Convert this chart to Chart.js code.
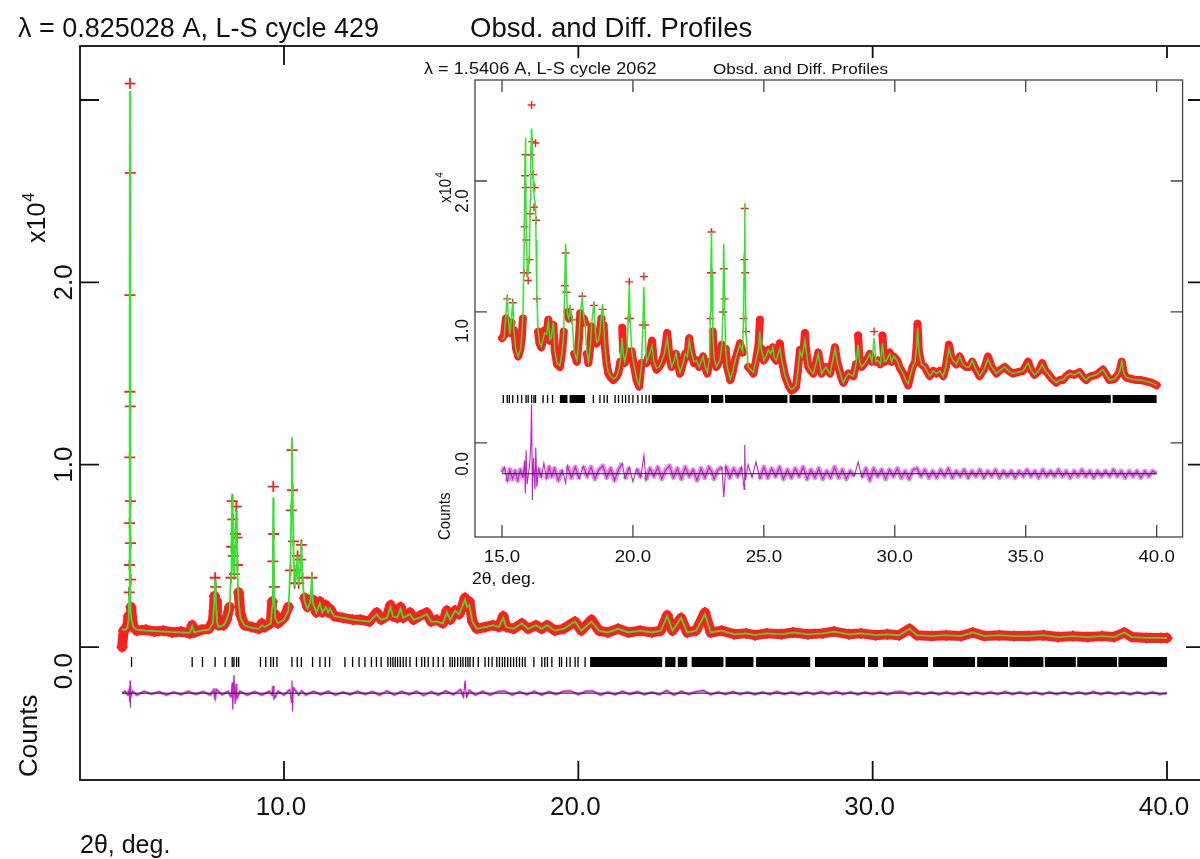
<!DOCTYPE html>
<html>
<head>
<meta charset="utf-8">
<script src="https://cdn.jsdelivr.net/npm/chart.js@4.4.1/dist/chart.umd.min.js"></script>
<style>
  html, body { margin: 0; padding: 0; background: #fff; overflow: hidden; width: 1200px; height: 859px; }
  #mainWrap { position: absolute; left: 0; top: 0; width: 1220px; height: 859px; }
  #insetWrap { position: absolute; left: 420px; top: 58px; width: 768px; height: 534px; background: #fff; }
</style>
</head>
<body>
<div id="mainWrap"><canvas id="mainChart" width="1220" height="859"></canvas></div>
<div id="insetWrap"><canvas id="insetChart" width="768" height="534"></canvas></div>
<script>
// ---- main pattern (lambda 0.825028 A), intensities in units of 10^4 counts ----
const mainTT = [
  4.50, 4.55, 4.62, 4.68, 4.72, 4.74, 4.75, 4.755, 4.76, 4.763,
  4.766, 4.77, 4.774, 4.777, 4.78, 4.785, 4.79, 4.80, 4.83, 4.88,
  5.00, 5.30, 5.60, 5.90, 6.20, 6.50, 6.80, 6.88, 6.95, 7.20,
  7.45, 7.58, 7.62, 7.64, 7.66, 7.68, 7.70, 7.72, 7.78, 7.95,
  8.05, 8.15, 8.20, 8.22, 8.24, 8.26, 8.28, 8.31, 8.35, 8.38,
  8.40, 8.42, 8.46, 8.52, 8.65, 8.90, 9.15, 9.25, 9.35, 9.55,
  9.60, 9.62, 9.635, 9.65, 9.67, 9.70, 9.80, 10.00, 10.15, 10.22,
  10.25, 10.27, 10.29, 10.32, 10.36, 10.42, 10.46, 10.50, 10.56, 10.59,
  10.63, 10.70, 10.80, 10.90, 10.95, 10.98, 11.10, 11.22, 11.30, 11.42,
  11.50, 11.56, 11.70, 12.00, 12.33, 12.60, 12.90, 13.15, 13.30, 13.50,
  13.62, 13.70, 13.85, 13.96, 14.05, 14.28, 14.40, 14.60, 14.85, 15.00,
  15.19, 15.40, 15.53, 15.65, 15.81, 15.95, 16.05, 16.15, 16.22, 16.30,
  16.40, 16.55, 16.85, 17.10, 17.30, 17.45, 17.55, 17.80, 18.08, 18.30,
  18.56, 18.75, 18.94, 19.20, 19.50, 19.89, 20.10, 20.45, 20.70, 21.00,
  21.35, 21.70, 22.10, 22.50, 22.80, 23.02, 23.20, 23.49, 23.70, 24.00,
  24.30, 24.50, 24.87, 25.30, 25.70, 26.00, 26.40, 26.90, 27.30, 27.80,
  28.30, 28.70, 29.20, 29.60, 30.10, 30.50, 30.90, 31.25, 31.50, 32.00,
  32.50, 33.00, 33.40, 33.80, 34.30, 34.80, 35.30, 35.80, 36.30, 36.80,
  37.30, 37.80, 38.20, 38.55, 38.80, 39.30, 39.80, 40.00
];
const mainObs = [
  0.00, 0.09, 0.10, 0.12, 0.17, 0.30, 0.45, 0.68, 1.04, 1.40,
  1.93, 3.09, 2.60, 1.32, 0.80, 0.57, 0.37, 0.22, 0.17, 0.11,
  0.09, 0.095, 0.085, 0.09, 0.08, 0.085, 0.075, 0.12, 0.08, 0.095,
  0.10, 0.14, 0.20, 0.28, 0.38, 0.33, 0.25, 0.17, 0.12, 0.12,
  0.15, 0.22, 0.38, 0.55, 0.80, 0.70, 0.50, 0.40, 0.62, 0.77,
  0.60, 0.45, 0.30, 0.18, 0.12, 0.11, 0.10, 0.13, 0.11, 0.13,
  0.25, 0.47, 0.88, 0.62, 0.33, 0.18, 0.13, 0.16, 0.22, 0.42,
  0.75, 1.08, 0.86, 0.58, 0.35, 0.42, 0.50, 0.35, 0.48, 0.56,
  0.38, 0.27, 0.22, 0.26, 0.38, 0.26, 0.19, 0.25, 0.19, 0.23,
  0.19, 0.21, 0.17, 0.16, 0.15, 0.15, 0.14, 0.19, 0.15, 0.17,
  0.23, 0.17, 0.16, 0.22, 0.16, 0.19, 0.15, 0.17, 0.19, 0.14,
  0.15, 0.13, 0.20, 0.15, 0.20, 0.18, 0.22, 0.27, 0.22, 0.25,
  0.14, 0.10, 0.11, 0.12, 0.11, 0.17, 0.11, 0.10, 0.13, 0.10,
  0.12, 0.10, 0.12, 0.09, 0.10, 0.14, 0.09, 0.15, 0.09, 0.08,
  0.10, 0.08, 0.09, 0.08, 0.09, 0.175, 0.09, 0.16, 0.08, 0.09,
  0.19, 0.08, 0.09, 0.07, 0.075, 0.065, 0.075, 0.07, 0.08, 0.07,
  0.075, 0.085, 0.07, 0.075, 0.065, 0.07, 0.065, 0.10, 0.065, 0.06,
  0.065, 0.06, 0.08, 0.06, 0.065, 0.06, 0.06, 0.065, 0.055, 0.06,
  0.055, 0.06, 0.055, 0.08, 0.055, 0.05, 0.05, 0.05
];
const mainCalc = [
  0.10, 0.095, 0.095, 0.105, 0.15, 0.28, 0.50, 0.75, 1.10, 1.50,
  2.00, 3.05, 2.55, 1.40, 0.85, 0.55, 0.35, 0.20, 0.14, 0.11,
  0.095, 0.09, 0.088, 0.085, 0.082, 0.08, 0.078, 0.115, 0.08, 0.09,
  0.095, 0.13, 0.22, 0.30, 0.37, 0.30, 0.20, 0.14, 0.11, 0.12,
  0.15, 0.20, 0.40, 0.60, 0.84, 0.75, 0.45, 0.38, 0.60, 0.75,
  0.58, 0.40, 0.25, 0.16, 0.12, 0.105, 0.10, 0.12, 0.11, 0.13,
  0.22, 0.50, 0.82, 0.60, 0.30, 0.16, 0.13, 0.15, 0.20, 0.45,
  0.80, 1.15, 0.90, 0.55, 0.33, 0.40, 0.50, 0.34, 0.45, 0.58,
  0.36, 0.25, 0.21, 0.25, 0.40, 0.24, 0.19, 0.24, 0.19, 0.22,
  0.19, 0.21, 0.17, 0.16, 0.15, 0.145, 0.14, 0.18, 0.15, 0.16,
  0.22, 0.17, 0.16, 0.21, 0.16, 0.18, 0.15, 0.16, 0.18, 0.14,
  0.14, 0.13, 0.19, 0.15, 0.20, 0.18, 0.22, 0.26, 0.22, 0.23,
  0.14, 0.10, 0.11, 0.12, 0.11, 0.16, 0.11, 0.10, 0.13, 0.10,
  0.12, 0.10, 0.12, 0.09, 0.10, 0.14, 0.09, 0.14, 0.09, 0.08,
  0.10, 0.08, 0.09, 0.08, 0.09, 0.17, 0.09, 0.16, 0.08, 0.09,
  0.18, 0.08, 0.09, 0.07, 0.075, 0.065, 0.075, 0.07, 0.08, 0.07,
  0.075, 0.085, 0.07, 0.075, 0.065, 0.07, 0.065, 0.10, 0.065, 0.06,
  0.065, 0.06, 0.08, 0.06, 0.065, 0.06, 0.06, 0.065, 0.055, 0.06,
  0.055, 0.06, 0.055, 0.08, 0.055, 0.05, 0.05, 0.05
];
// difference curve (obs - calc), drawn shifted below the reflection ticks
const mainDiffTT = [
  4.50, 4.60, 4.70, 4.74, 4.76, 4.77, 4.775, 4.78, 4.80, 4.85,
  5.00, 5.25, 5.50, 5.75, 6.00, 6.25, 6.50, 6.75, 7.00, 7.25,
  7.50, 7.62, 7.66, 7.70, 7.90, 8.10, 8.20, 8.24, 8.26, 8.30,
  8.34, 8.37, 8.40, 8.50, 8.75, 9.00, 9.25, 9.50, 9.60, 9.63,
  9.66, 9.80, 10.00, 10.20, 10.25, 10.27, 10.29, 10.32, 10.50, 10.60,
  10.75, 11.00, 11.25, 11.50, 11.75, 12.00, 12.25, 12.50, 12.75, 13.00,
  13.25, 13.50, 13.75, 14.00, 14.25, 14.50, 14.75, 15.00, 15.25, 15.50,
  15.75, 16.00, 16.10, 16.15, 16.20, 16.30, 16.50, 16.75, 17.00, 17.25,
  17.50, 17.75, 18.00, 18.25, 18.50, 18.75, 19.00, 19.25, 19.50, 19.75,
  20.00, 20.25, 20.50, 20.75, 21.00, 21.25, 21.50, 21.75, 22.00, 22.25,
  22.50, 22.75, 23.00, 23.25, 23.50, 23.75, 24.00, 24.25, 24.50, 24.75,
  25.00, 25.25, 25.50, 25.75, 26.00, 26.25, 26.50, 26.75, 27.00, 27.25,
  27.50, 27.75, 28.00, 28.25, 28.50, 28.75, 29.00, 29.25, 29.50, 29.75,
  30.00, 30.25, 30.50, 30.75, 31.00, 31.25, 31.50, 31.75, 32.00, 32.25,
  32.50, 32.75, 33.00, 33.25, 33.50, 33.75, 34.00, 34.25, 34.50, 34.75,
  35.00, 35.25, 35.50, 35.75, 36.00, 36.25, 36.50, 36.75, 37.00, 37.25,
  37.50, 37.75, 38.00, 38.25, 38.50, 38.75, 39.00, 39.25, 39.50, 39.75,
  40.00
];
const mainDiff = [
  0.00, 0.01, -0.01, 0.02, -0.05, 0.07, -0.08, 0.03, -0.02, 0.01,
  -0.01, 0.01, -0.005, 0.008, -0.01, 0.006, -0.008, 0.01, -0.006, 0.008,
  -0.01, 0.02, -0.03, 0.02, -0.008, 0.01, -0.02, 0.06, -0.09, 0.10,
  -0.06, 0.05, -0.03, 0.01, -0.01, 0.008, -0.01, 0.01, -0.01, 0.04,
  -0.03, 0.01, -0.01, 0.02, -0.05, 0.07, -0.10, 0.03, -0.01, 0.012,
  -0.01, 0.01, -0.008, 0.01, -0.01, 0.006, -0.008, 0.01, -0.006, 0.008,
  -0.01, 0.012, -0.01, 0.01, -0.008, 0.01, -0.012, 0.008, -0.01, 0.012,
  -0.008, 0.02, -0.02, 0.07, -0.02, 0.015, -0.01, 0.01, -0.01, 0.008,
  0.012, -0.01, 0.008, -0.008, 0.01, -0.01, 0.008, -0.006, 0.01, 0.012,
  -0.008, 0.01, 0.012, -0.01, 0.006, -0.008, 0.01, -0.006, 0.008, -0.008,
  0.006, -0.008, 0.014, -0.01, 0.01, -0.006, 0.008, 0.014, -0.008, 0.006,
  -0.006, 0.008, -0.006, 0.006, -0.008, 0.006, -0.006, 0.008, -0.006, 0.006,
  -0.008, 0.006, -0.006, 0.008, -0.006, 0.008, -0.006, 0.006, -0.008, 0.006,
  -0.006, 0.006, -0.008, 0.006, 0.008, -0.006, 0.006, -0.006, 0.006, -0.008,
  0.006, -0.006, 0.006, -0.008, 0.006, -0.006, 0.006, -0.006, 0.008, -0.006,
  0.006, -0.006, 0.006, -0.008, 0.006, -0.006, 0.006, -0.006, 0.006, -0.006,
  0.008, -0.006, 0.006, -0.006, 0.006, -0.008, 0.006, -0.006, 0.006, -0.006,
  0.00
];
// reflection positions: single ticks, then runs where ticks merge into a solid bar
const mainHklTT = [
  4.82, 6.88, 7.23, 7.66, 8.00, 8.24, 8.30, 8.39, 8.46, 9.20,
  9.38, 9.55, 9.64, 9.76, 10.27, 10.45, 10.59, 10.97, 11.22, 11.40,
  11.55, 12.07, 12.33, 12.55, 12.75, 12.97, 13.14, 13.30, 13.53, 13.62,
  13.70, 13.78, 13.86, 13.95, 14.05, 14.15, 14.28, 14.50, 14.68, 14.78,
  14.90, 15.07, 15.24, 15.41, 15.64, 15.72, 15.80, 15.90, 16.00, 16.08,
  16.17, 16.25, 16.32, 16.43, 16.60, 16.83, 16.95, 17.07, 17.23, 17.32,
  17.42, 17.50, 17.60, 17.70, 17.80, 17.90, 18.00, 18.10, 18.19, 18.49,
  18.76, 18.86, 18.95, 19.10, 19.36, 19.43, 19.60, 19.72, 19.89, 19.99,
  20.23
];
const mainBandFrom = [20.40, 22.95, 23.38, 23.85, 25.00, 26.04, 28.04, 29.84, 30.35, 32.05, 33.55, 34.65, 35.85, 36.95, 38.35];
const mainBandTo   = [22.85, 23.30, 23.70, 24.93, 25.95, 27.88, 29.74, 30.18, 31.88, 33.48, 34.60, 35.80, 36.90, 38.30, 40.00];

// ---- inset pattern (lambda 1.5406 A) ----
const insetTT = [
  15.00, 15.08, 15.15, 15.20, 15.25, 15.30, 15.36, 15.41, 15.46, 15.54,
  15.62, 15.70, 15.75, 15.80, 15.84, 15.86, 15.88, 15.895, 15.91, 15.93,
  15.96, 16.00, 16.05, 16.08, 16.10, 16.13, 16.16, 16.19, 16.22, 16.25,
  16.28, 16.30, 16.33, 16.38, 16.43, 16.50, 16.58, 16.63, 16.70, 16.77,
  16.83, 16.88, 16.96, 17.02, 17.10, 17.21, 17.30, 17.36, 17.40, 17.43,
  17.46, 17.50, 17.56, 17.60, 17.68, 17.76, 17.86, 17.94, 17.99, 18.07,
  18.12, 18.17, 18.24, 18.30, 18.38, 18.42, 18.51, 18.56, 18.61, 18.68,
  18.74, 18.80, 18.84, 18.88, 18.93, 19.00, 19.06, 19.15, 19.25, 19.35,
  19.44, 19.52, 19.59, 19.63, 19.69, 19.78, 19.83, 19.86, 19.89, 19.95,
  20.02, 20.14, 20.24, 20.33, 20.38, 20.42, 20.46, 20.52, 20.60, 20.65,
  20.73, 20.80, 20.90, 21.00, 21.09, 21.20, 21.31, 21.40, 21.48, 21.56,
  21.65, 21.72, 21.80, 21.90, 22.00, 22.08, 22.15, 22.22, 22.33, 22.43,
  22.53, 22.60, 22.68, 22.76, 22.84, 22.92, 22.96, 22.98, 23.00, 23.02,
  23.05, 23.10, 23.19, 23.32, 23.40, 23.44, 23.47, 23.50, 23.54, 23.60,
  23.72, 23.82, 23.90, 24.00, 24.09, 24.15, 24.19, 24.23, 24.25, 24.27,
  24.29, 24.32, 24.40, 24.50, 24.60, 24.70, 24.80, 24.85, 24.90, 25.00,
  25.08, 25.17, 25.26, 25.34, 25.40, 25.47, 25.55, 25.61, 25.67, 25.74,
  25.80, 25.87, 25.96, 26.06, 26.15, 26.23, 26.30, 26.38, 26.45, 26.52,
  26.57, 26.62, 26.70, 26.80, 26.89, 26.98, 27.08, 27.15, 27.21, 27.30,
  27.37, 27.45, 27.53, 27.62, 27.72, 27.80, 27.88, 27.96, 28.04, 28.13,
  28.23, 28.32, 28.42, 28.52, 28.60, 28.66, 28.73, 28.82, 28.92, 29.00,
  29.05, 29.13, 29.21, 29.28, 29.36, 29.45, 29.53, 29.60, 29.68, 29.75,
  29.81, 29.88, 29.96, 30.09, 30.20, 30.32, 30.42, 30.51, 30.60, 30.68,
  30.78, 30.84, 30.87, 30.92, 31.02, 31.15, 31.25, 31.34, 31.47, 31.60,
  31.72, 31.85, 31.95, 32.07, 32.15, 32.22, 32.35, 32.48, 32.60, 32.73,
  32.85, 32.96, 33.10, 33.24, 33.40, 33.56, 33.70, 33.88, 34.05, 34.20,
  34.35, 34.51, 34.70, 34.90, 35.09, 35.20, 35.34, 35.50, 35.63, 35.75,
  35.85, 36.00, 36.17, 36.30, 36.42, 36.55, 36.68, 36.85, 37.06, 37.20,
  37.31, 37.40, 37.50, 37.70, 37.95, 38.08, 38.20, 38.40, 38.58, 38.67,
  38.75, 38.84, 39.00, 39.22, 39.40, 39.60, 39.80, 40.00
];
const insetObs = [
  0.80, 0.82, 0.95, 1.10, 0.92, 0.84, 0.92, 1.07, 0.86, 0.72,
  0.66, 0.72, 0.79, 0.95, 1.30, 1.65, 2.04, 2.20, 1.95, 1.55,
  1.30, 1.24, 1.40, 1.75, 2.20, 2.58, 2.30, 2.05, 1.80, 1.95,
  2.29, 1.70, 1.10, 0.85, 0.76, 0.73, 0.80, 0.86, 0.82, 0.94,
  0.78, 0.80, 0.90, 0.70, 0.60, 0.58, 0.70, 0.85, 1.20, 1.45,
  1.15, 1.00, 0.95, 1.02, 0.94, 0.68, 0.62, 0.80, 0.99, 1.12,
  0.95, 0.92, 0.68, 0.61, 0.75, 0.89, 1.05, 0.85, 0.76, 0.78,
  0.84, 0.95, 1.02, 0.90, 0.73, 0.60, 0.53, 0.50, 0.48, 0.50,
  0.53, 0.62, 0.88, 0.70, 0.61, 0.70, 0.95, 1.23, 0.95, 0.70,
  0.61, 0.48, 0.43, 0.61, 0.90, 1.27, 0.90, 0.61, 0.66, 0.68,
  0.78, 0.62, 0.56, 0.58, 0.61, 0.68, 0.84, 0.65, 0.58, 0.62,
  0.68, 0.60, 0.53, 0.60, 0.68, 0.66, 0.80, 0.70, 0.61, 0.63,
  0.58, 0.62, 0.66, 0.58, 0.53, 0.62, 0.95, 1.30, 1.61, 1.30,
  0.85, 0.65, 0.58, 0.63, 0.75, 1.00, 1.33, 1.10, 0.72, 0.58,
  0.48, 0.55, 0.63, 0.70, 0.76, 0.72, 0.69, 0.95, 1.40, 1.79,
  1.30, 0.85, 0.58, 0.56, 0.53, 0.63, 0.75, 0.94, 0.72, 0.63,
  0.66, 0.71, 0.68, 0.73, 0.65, 0.63, 0.68, 0.76, 0.65, 0.58,
  0.52, 0.48, 0.43, 0.40, 0.41, 0.43, 0.55, 0.71, 0.66, 0.72,
  0.84, 0.70, 0.58, 0.55, 0.53, 0.60, 0.69, 0.60, 0.53, 0.56,
  0.58, 0.55, 0.53, 0.62, 0.73, 0.62, 0.56, 0.50, 0.46, 0.50,
  0.53, 0.52, 0.51, 0.60, 0.82, 0.62, 0.58, 0.60, 0.63, 0.66,
  0.68, 0.62, 0.85, 0.62, 0.63, 0.60, 0.82, 0.62, 0.63, 0.66,
  0.69, 0.62, 0.66, 0.63, 0.57, 0.53, 0.48, 0.44, 0.52, 0.58,
  0.62, 0.75, 0.91, 0.70, 0.60, 0.58, 0.54, 0.51, 0.55, 0.53,
  0.55, 0.51, 0.58, 0.75, 0.66, 0.63, 0.60, 0.66, 0.60, 0.58,
  0.58, 0.62, 0.56, 0.51, 0.56, 0.66, 0.58, 0.53, 0.56, 0.58,
  0.55, 0.53, 0.54, 0.55, 0.62, 0.56, 0.52, 0.55, 0.61, 0.55,
  0.53, 0.49, 0.46, 0.48, 0.48, 0.51, 0.53, 0.52, 0.54, 0.50,
  0.48, 0.50, 0.51, 0.52, 0.56, 0.52, 0.48, 0.49, 0.54, 0.62,
  0.53, 0.50, 0.49, 0.48, 0.48, 0.47, 0.46, 0.44
];
const insetCalc = [
  0.79, 0.80, 0.98, 1.12, 0.94, 0.83, 0.95, 1.08, 0.85, 0.70,
  0.66, 0.71, 0.80, 0.98, 1.40, 1.80, 2.20, 2.33, 2.05, 1.60,
  1.35, 1.28, 1.45, 1.85, 2.20, 2.40, 2.25, 2.00, 1.90, 1.85,
  1.83, 1.55, 1.12, 0.86, 0.77, 0.74, 0.80, 0.84, 0.83, 0.93,
  0.79, 0.80, 0.92, 0.70, 0.61, 0.59, 0.70, 0.85, 1.25, 1.52,
  1.20, 0.98, 0.95, 1.03, 0.93, 0.69, 0.63, 0.80, 1.00, 1.10,
  0.96, 0.91, 0.69, 0.62, 0.75, 0.90, 1.07, 0.86, 0.77, 0.78,
  0.85, 0.98, 1.06, 0.92, 0.74, 0.60, 0.54, 0.51, 0.49, 0.50,
  0.54, 0.62, 0.80, 0.68, 0.62, 0.72, 1.00, 1.20, 0.97, 0.71,
  0.62, 0.49, 0.44, 0.60, 0.90, 1.19, 0.88, 0.62, 0.66, 0.69,
  0.74, 0.62, 0.57, 0.58, 0.62, 0.68, 0.80, 0.66, 0.58, 0.62,
  0.69, 0.60, 0.54, 0.60, 0.68, 0.66, 0.78, 0.70, 0.62, 0.63,
  0.58, 0.62, 0.66, 0.58, 0.54, 0.63, 1.00, 1.35, 1.61, 1.28,
  0.85, 0.65, 0.58, 0.63, 0.75, 1.05, 1.52, 1.10, 0.72, 0.58,
  0.49, 0.55, 0.63, 0.70, 0.75, 0.72, 0.70, 1.00, 1.45, 1.83,
  1.30, 0.85, 0.58, 0.56, 0.54, 0.63, 0.72, 0.85, 0.72, 0.63,
  0.66, 0.71, 0.68, 0.73, 0.65, 0.63, 0.68, 0.72, 0.65, 0.58,
  0.52, 0.48, 0.43, 0.41, 0.42, 0.44, 0.55, 0.70, 0.66, 0.72,
  0.78, 0.70, 0.58, 0.55, 0.53, 0.60, 0.68, 0.60, 0.53, 0.56,
  0.58, 0.55, 0.53, 0.62, 0.72, 0.62, 0.56, 0.50, 0.46, 0.50,
  0.53, 0.52, 0.51, 0.60, 0.75, 0.62, 0.58, 0.60, 0.63, 0.66,
  0.68, 0.62, 0.80, 0.62, 0.63, 0.60, 0.76, 0.62, 0.63, 0.66,
  0.68, 0.62, 0.66, 0.63, 0.57, 0.53, 0.48, 0.45, 0.52, 0.58,
  0.62, 0.75, 0.88, 0.70, 0.60, 0.58, 0.54, 0.51, 0.55, 0.53,
  0.55, 0.51, 0.58, 0.72, 0.66, 0.63, 0.60, 0.66, 0.60, 0.58,
  0.58, 0.63, 0.56, 0.51, 0.56, 0.64, 0.58, 0.53, 0.56, 0.58,
  0.55, 0.53, 0.54, 0.55, 0.61, 0.56, 0.52, 0.55, 0.60, 0.55,
  0.53, 0.49, 0.46, 0.48, 0.48, 0.51, 0.53, 0.52, 0.54, 0.50,
  0.48, 0.50, 0.51, 0.52, 0.56, 0.52, 0.48, 0.49, 0.54, 0.62,
  0.53, 0.50, 0.49, 0.48, 0.48, 0.47, 0.46, 0.44
];
const insetDiffTT = [
  15.00, 15.10, 15.20, 15.30, 15.40, 15.50, 15.60, 15.70, 15.80, 15.86,
  15.89, 15.92, 15.96, 16.05, 16.10, 16.13, 16.16, 16.20, 16.26, 16.29,
  16.33, 16.40, 16.50, 16.60, 16.70, 16.80, 16.90, 17.00, 17.15, 17.30,
  17.43, 17.50, 17.65, 17.80, 17.95, 18.10, 18.25, 18.40, 18.55, 18.70,
  18.85, 19.00, 19.15, 19.30, 19.45, 19.59, 19.70, 19.86, 20.00, 20.15,
  20.30, 20.42, 20.50, 20.65, 20.80, 20.95, 21.10, 21.25, 21.40, 21.55,
  21.70, 21.85, 22.00, 22.15, 22.30, 22.45, 22.60, 22.75, 22.90, 23.00,
  23.10, 23.25, 23.40, 23.47, 23.55, 23.70, 23.85, 24.00, 24.15, 24.25,
  24.27, 24.30, 24.40, 24.55, 24.70, 24.85, 25.00, 25.15, 25.30, 25.45,
  25.60, 25.75, 25.90, 26.05, 26.20, 26.35, 26.50, 26.65, 26.80, 26.95,
  27.10, 27.25, 27.40, 27.55, 27.70, 27.85, 28.00, 28.15, 28.30, 28.45,
  28.60, 28.75, 28.90, 29.05, 29.20, 29.35, 29.50, 29.65, 29.80, 29.95,
  30.10, 30.25, 30.40, 30.55, 30.70, 30.85, 31.00, 31.15, 31.30, 31.45,
  31.60, 31.75, 31.90, 32.05, 32.20, 32.35, 32.50, 32.65, 32.80, 32.95,
  33.10, 33.25, 33.40, 33.55, 33.70, 33.85, 34.00, 34.15, 34.30, 34.45,
  34.60, 34.75, 34.90, 35.05, 35.20, 35.35, 35.50, 35.65, 35.80, 35.95,
  36.10, 36.25, 36.40, 36.55, 36.70, 36.85, 37.00, 37.15, 37.30, 37.45,
  37.60, 37.75, 37.90, 38.05, 38.20, 38.35, 38.50, 38.65, 38.80, 38.95,
  39.10, 39.25, 39.40, 39.55, 39.70, 39.85, 40.00
];
const insetDiff = [
  0.01, 0.05, -0.06, 0.03, -0.04, 0.02, -0.05, 0.03, -0.03, 0.10,
  -0.15, 0.18, -0.08, 0.06, 0.22, 0.53, -0.20, 0.12, -0.12, 0.20,
  -0.10, 0.04, -0.03, 0.08, -0.04, 0.05, -0.02, 0.04, -0.05, 0.03,
  -0.07, 0.06, -0.03, 0.05, -0.04, 0.06, -0.02, 0.05, -0.04, 0.03,
  0.06, -0.03, 0.04, -0.05, 0.03, 0.08, -0.04, 0.05, -0.06, 0.04,
  -0.03, 0.14, -0.05, 0.04, -0.02, 0.05, -0.04, 0.03, 0.06, -0.03,
  0.04, -0.04, 0.05, -0.02, 0.03, -0.05, 0.04, -0.03, 0.05, 0.02,
  -0.04, 0.03, 0.05, -0.18, 0.06, -0.03, 0.04, -0.02, 0.05, -0.12,
  0.22, -0.05, 0.07, -0.03, 0.09, -0.04, 0.05, -0.03, 0.04, -0.02,
  0.05, -0.04, 0.03, -0.03, 0.04, -0.02, 0.05, -0.04, 0.03, -0.03,
  0.04, -0.04, 0.02, -0.03, 0.05, -0.03, 0.03, -0.04, 0.02, -0.02,
  0.09, -0.03, 0.04, -0.05, 0.04, -0.02, 0.03, -0.04, 0.03, -0.02,
  0.04, -0.03, 0.02, -0.04, 0.03, 0.04, -0.02, 0.03, -0.03, 0.02,
  -0.03, 0.03, -0.02, 0.04, -0.03, 0.02, -0.02, 0.03, -0.03, 0.02,
  -0.02, 0.03, -0.03, 0.02, -0.02, 0.03, -0.03, 0.02, -0.02, 0.02,
  -0.03, 0.02, -0.02, 0.03, -0.02, 0.02, -0.03, 0.03, -0.02, 0.02,
  -0.02, 0.03, -0.02, 0.02, -0.03, 0.02, -0.02, 0.03, -0.02, 0.02,
  -0.03, 0.02, -0.02, 0.02, -0.02, 0.03, -0.02, 0.02, -0.03, 0.02,
  -0.02, 0.02, -0.03, 0.02, -0.02, 0.02, 0.00
];
const insetHklTT = [
  15.05, 15.20, 15.28, 15.41, 15.60, 15.75, 15.92, 16.00, 16.13, 16.22,
  16.28, 16.57, 16.74, 16.93, 18.49, 18.74, 18.90, 19.02, 19.32, 19.45,
  19.60, 19.72, 19.85, 20.00, 20.19, 20.35, 20.50, 20.62
];
const insetBandFrom = [17.21, 17.58, 20.72, 22.98, 23.52, 25.98, 26.85, 27.98, 29.25, 29.70, 30.32, 31.90, 38.32];
const insetBandTo   = [17.50, 18.17, 22.90, 23.45, 25.90, 26.78, 27.90, 29.15, 29.60, 30.08, 31.72, 38.25, 40.00];

// ---- helpers ----
function pts(xs, ys, shift) {
  const n = Math.min(xs.length, ys.length);
  const out = [];
  for (let i = 0; i < n; i++) out.push({ x: xs[i], y: ys[i] + (shift || 0) });
  return out;
}
function flat(xs, level) {
  return xs.map(x => ({ x: x, y: level }));
}
function runs(from, to, level) {
  const out = [];
  from.forEach((a, i) => {
    out.push({ x: a, y: level }, { x: to[i], y: level }, { x: to[i], y: null });
  });
  return out;
}

function drawText(ctx, t, sx) {
  ctx.save();
  ctx.translate(t.x, t.y);
  ctx.scale(sx, 1);
  if (t.rot) ctx.rotate(-Math.PI / 2);
  ctx.font = t.font;
  ctx.textAlign = t.align || 'left';
  ctx.fillText(t.text, 0, 0);
  if (t.sup) {
    const w = ctx.measureText(t.text).width;
    ctx.font = t.supFont;
    ctx.textAlign = 'left';
    ctx.fillText(t.sup, w + 1, -t.supRaise);
  }
  ctx.restore();
}

// frame, inward ticks and all labels drawn GSAS style
const gsasFrame = {
  id: 'gsasFrame',
  afterDraw(chart, args, o) {
    const ctx = chart.ctx, a = chart.chartArea;
    const xs = chart.scales.x, ys = chart.scales.y;
    ctx.save();
    ctx.strokeStyle = o.frameColor;
    ctx.lineWidth = o.lineWidth;
    ctx.strokeRect(a.left, a.top, a.right - a.left, a.bottom - a.top);
    ctx.beginPath();
    o.xTicks.forEach(v => {
      const p = xs.getPixelForValue(v);
      ctx.moveTo(p, a.bottom); ctx.lineTo(p, a.bottom - o.tickLen);
      ctx.moveTo(p, a.top); ctx.lineTo(p, a.top + o.tickLen);
    });
    o.yTicks.forEach(v => {
      const p = ys.getPixelForValue(v);
      ctx.moveTo(a.left, p); ctx.lineTo(a.left + o.tickLen, p);
      ctx.moveTo(a.right, p); ctx.lineTo(a.right - o.tickLen, p);
    });
    ctx.stroke();
    ctx.fillStyle = '#111';
    ctx.textBaseline = 'alphabetic';
    o.xTicks.forEach(v => drawText(ctx, {
      text: v.toFixed(1), x: xs.getPixelForValue(v) + o.xLabelDx, y: o.xLabelY,
      font: o.tickFont, align: 'center'
    }, o.sx));
    o.yLabels.forEach((v, i) => drawText(ctx, {
      text: v.toFixed(1), x: o.yLabelX, y: ys.getPixelForValue(v) + o.yLabelDy[i],
      font: o.tickFont, align: 'center', rot: true
    }, o.sx));
    o.texts.forEach(t => drawText(ctx, t, o.sx));
    ctx.restore();
  }
};

const RED = '#ff1f1f', GREEN = '#2ee62e', MAGENTA = '#c41fcc';
const CLEAR = 'rgba(0,0,0,0)';

function buildDatasets(d) {
  // the band of merged crosses follows the low, slowly varying part of the pattern;
  // tall narrow peaks keep only their individual crosses
  const hideBand = s => Math.abs(s.p1.y - s.p0.y) > d.steep ||
    Math.max(d.obs[s.p0DataIndex], d.obs[s.p1DataIndex]) > d.bandTop;
  return [
    { data: pts(d.tt, d.calc), borderColor: GREEN, borderWidth: d.calcWidth, pointRadius: 0, order: 0 },
    { data: pts(d.tt, d.obs), showLine: false, pointStyle: 'cross', pointRadius: d.crossSize,
      pointBorderColor: RED, pointBorderWidth: d.crossWidth, order: 1 },
    { data: pts(d.tt, d.obs), borderColor: RED, borderWidth: d.bandWidth, borderJoinStyle: 'round',
      borderCapStyle: 'round', pointRadius: 0, order: 2,
      segment: { borderColor: s => hideBand(s) ? CLEAR : undefined } },
    { data: flat(d.hkl, d.hklLevel), showLine: false, pointStyle: 'line', pointRotation: 90,
      pointRadius: d.hklHalf, pointBorderColor: '#000', pointBorderWidth: 1.3, order: 3 },
    { data: runs(d.bandFrom, d.bandTo, d.hklLevel), borderColor: '#000', borderWidth: d.hklHalf * 2,
      borderCapStyle: 'butt', pointRadius: 0, order: 3 },
    { data: [{ x: d.tt[0], y: d.diffBase }, { x: d.tt[d.tt.length - 1], y: d.diffBase }],
      borderColor: '#222', borderWidth: 1, pointRadius: 0, order: 4 },
    { data: pts(d.diffTT, d.diff, d.diffBase), borderColor: MAGENTA, borderWidth: d.diffWidth,
      pointRadius: 0, order: 5 },
    { data: pts(d.diffTT, d.diff, d.diffBase), borderColor: 'rgba(196,31,204,0.5)', borderWidth: d.diffFuzz,
      borderJoinStyle: 'round', pointRadius: 0, order: 6,
      segment: { borderColor: s => Math.abs(s.p1.y - s.p0.y) > 12 ? CLEAR : undefined } }
  ];
}

function baseOptions(xr, yr, pad, frame) {
  return {
    responsive: false,
    animation: false,
    devicePixelRatio: 1,
    layout: { padding: pad },
    elements: { line: { tension: 0, fill: false } },
    scales: {
      x: { type: 'linear', min: xr[0], max: xr[1], display: false },
      y: { type: 'linear', min: yr[0], max: yr[1], display: false }
    },
    plugins: { legend: { display: false }, tooltip: { enabled: false }, gsasFrame: frame }
  };
}

const FONT = '"Liberation Sans", Arial, Helvetica, sans-serif';

new Chart(document.getElementById('mainChart'), {
  type: 'line',
  data: {
    datasets: buildDatasets({
      tt: mainTT, obs: mainObs, calc: mainCalc, diffTT: mainDiffTT, diff: mainDiff,
      hkl: mainHklTT, bandFrom: mainBandFrom, bandTo: mainBandTo,
      hklLevel: -0.082, hklHalf: 5, diffBase: -0.253,
      calcWidth: 1.8, crossSize: 5.5, crossWidth: 1.8, bandWidth: 10, steep: 22, bandTop: 0.3,
      diffWidth: 1.2, diffFuzz: 3
    })
  },
  options: baseOptions([3.069, 41.291], [-0.729, 3.296],
    { left: 80, top: 46, right: 15, bottom: 79 },
    {
      sx: 1, frameColor: '#111', lineWidth: 1.8, tickLen: 19,
      xTicks: [10, 20, 30, 40], yTicks: [0, 1, 2, 3], yLabels: [0, 1, 2],
      tickFont: '26px ' + FONT, xLabelDx: -3, xLabelY: 815,
      yLabelX: 72, yLabelDy: [24, 0, 0],
      texts: [
        { text: 'λ = 0.825028 A, L-S cycle 429', x: 18, y: 37, font: '27px ' + FONT },
        { text: 'Obsd. and Diff. Profiles', x: 470, y: 37, font: '27.5px ' + FONT },
        { text: '2θ, deg.', x: 80, y: 853, font: '25px ' + FONT },
        { text: 'Counts', x: 37, y: 777, font: '26px ' + FONT, rot: true },
        { text: 'x10', x: 45, y: 243, font: '25px ' + FONT, rot: true,
          sup: '4', supFont: '16px ' + FONT, supRaise: 11 }
      ]
    }),
  plugins: [gsasFrame]
});

new Chart(document.getElementById('insetChart'), {
  type: 'line',
  data: {
    datasets: buildDatasets({
      tt: insetTT, obs: insetObs, calc: insetCalc, diffTT: insetDiffTT, diff: insetDiff,
      hkl: insetHklTT, bandFrom: insetBandFrom, bandTo: insetBandTo,
      hklLevel: 0.336, hklHalf: 4, diffBase: -0.235,
      calcWidth: 1.5, crossSize: 4, crossWidth: 1.4, bandWidth: 8, steep: 28, bandTop: 1.0,
      diffWidth: 1.1, diffFuzz: 5
    })
  },
  options: baseOptions([13.969, 40.992], [-0.718, 2.771],
    { left: 55, top: 22, right: 5, bottom: 55 },
    {
      sx: 1.1, frameColor: '#444', lineWidth: 1.3, tickLen: 12,
      xTicks: [15, 20, 25, 30, 35, 40], yTicks: [0, 1, 2], yLabels: [0, 1, 2],
      tickFont: '17px ' + FONT, xLabelDx: 0, xLabelY: 504,
      yLabelX: 48, yLabelDy: [21, 19, 20],
      texts: [
        { text: 'λ = 1.5406 A, L-S cycle 2062', x: 4, y: 16, font: '16.5px ' + FONT },
        { text: 'Obsd. and Diff. Profiles', x: 293, y: 16, font: '15.5px ' + FONT },
        { text: '2θ, deg.', x: 52, y: 526, font: '16px ' + FONT },
        { text: 'Counts', x: 30, y: 482, font: '15px ' + FONT, rot: true },
        { text: 'x10', x: 31, y: 145, font: '15px ' + FONT, rot: true,
          sup: '4', supFont: '10px ' + FONT, supRaise: 7 }
      ]
    }),
  plugins: [gsasFrame]
});
</script>
</body>
</html>
